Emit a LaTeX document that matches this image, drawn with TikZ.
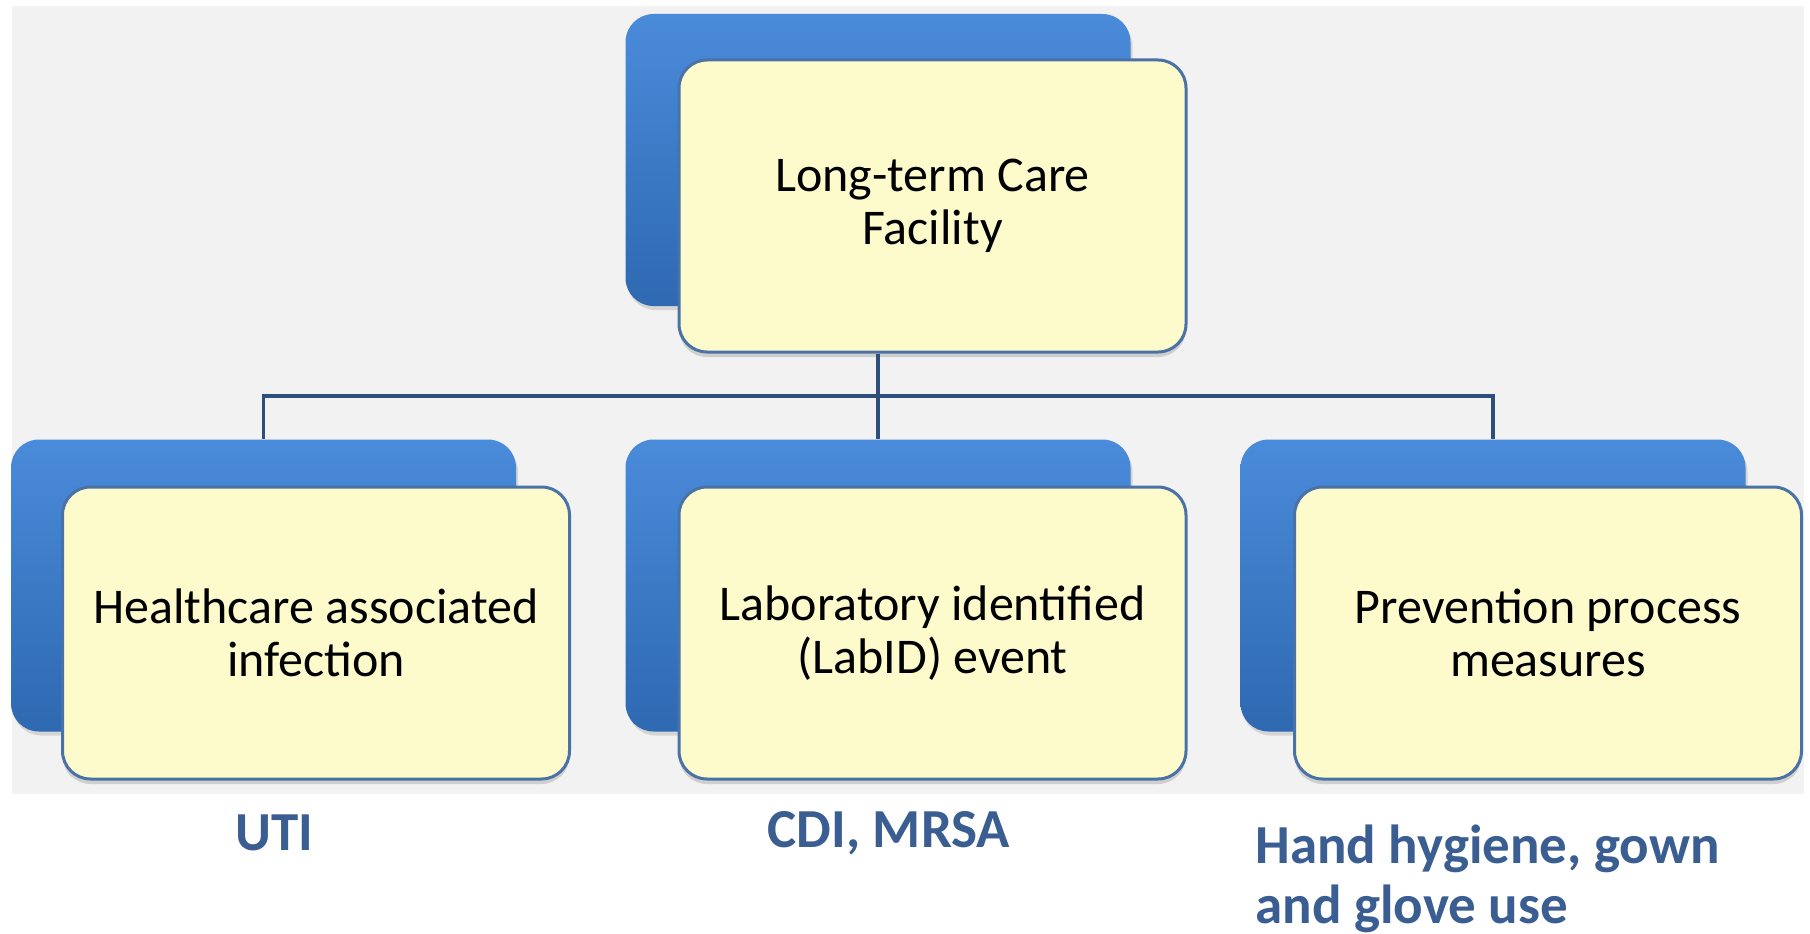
\documentclass[tikz,border=0pt]{standalone}
\usepackage{fontspec}
\setmainfont{Carlito}
\usetikzlibrary{shadows}
\definecolor{bgray}{HTML}{F2F2F2}
\definecolor{btop}{HTML}{4A8BDA}
\definecolor{bbot}{HTML}{2E69B1}
\definecolor{yfill}{HTML}{FDFBCB}
\definecolor{yedge}{HTML}{4A72A6}
\definecolor{conncol}{HTML}{2E4E7C}
\definecolor{labcol}{HTML}{3A5D92}
\tikzset{
  backbox/.style={rounded corners=28pt, minimum width=505pt, minimum height=292pt,
    top color=btop, bottom color=bbot, draw=none,
    drop shadow={opacity=0.25, shadow xshift=2pt, shadow yshift=-4pt}},
  frontbox/.style={rounded corners=28pt, minimum width=507pt, minimum height=292pt,
    fill=yfill, draw=yedge, line width=3pt, align=center, text=black,
    font=\fontsize{50}{53}\selectfont,
    drop shadow={opacity=0.3, shadow xshift=0pt, shadow yshift=-5pt}},
  conn/.style={draw=conncol, line width=3.5pt},
  lab/.style={text=labcol, font=\fontsize{55}{60}\selectfont\bfseries, align=left}
}
\begin{document}
\begin{tikzpicture}[x=1pt,y=-1pt]
\useasboundingbox (0,0) rectangle (1810,934);
\fill[white] (0,0) rectangle (1810,934);
\fill[bgray] (12,6) rectangle (1804,794);
% top
\node[backbox] (tb) at (878,160) {};
\node[frontbox] (t) at (932.5,206) {Long-term Care\\Facility};
% bottom left
\node[backbox] (lb) at (263.5,585.5) {};
\node[frontbox] (l) at (316,633) {Healthcare associated\\infection};
% bottom middle
\node[backbox] (mb) at (878,585.5) {};
\node[frontbox] (m) at (932.5,633) {Laboratory identified\\(LabID) event};
% bottom right
\node[backbox] (rb) at (1493,585.5) {};
\node[frontbox] (r) at (1548,633) {Prevention process\\measures};
% connectors
\coordinate (j) at (878,396);
\draw[conn] (t.south -| tb.center) -- (j);
\draw[conn] (j) -| (lb.north);
\draw[conn] (j) -| (rb.north);
\draw[conn] (j) -- (mb.north);
% labels
\node[lab] (u) at (274,833) {UTI};
\node[lab] (c) at (889,833) {CDI, MRSA};
\node[lab, anchor=west] (h) at (1252,879) {Hand hygiene, gown\\and glove use};
\end{tikzpicture}
\end{document}
